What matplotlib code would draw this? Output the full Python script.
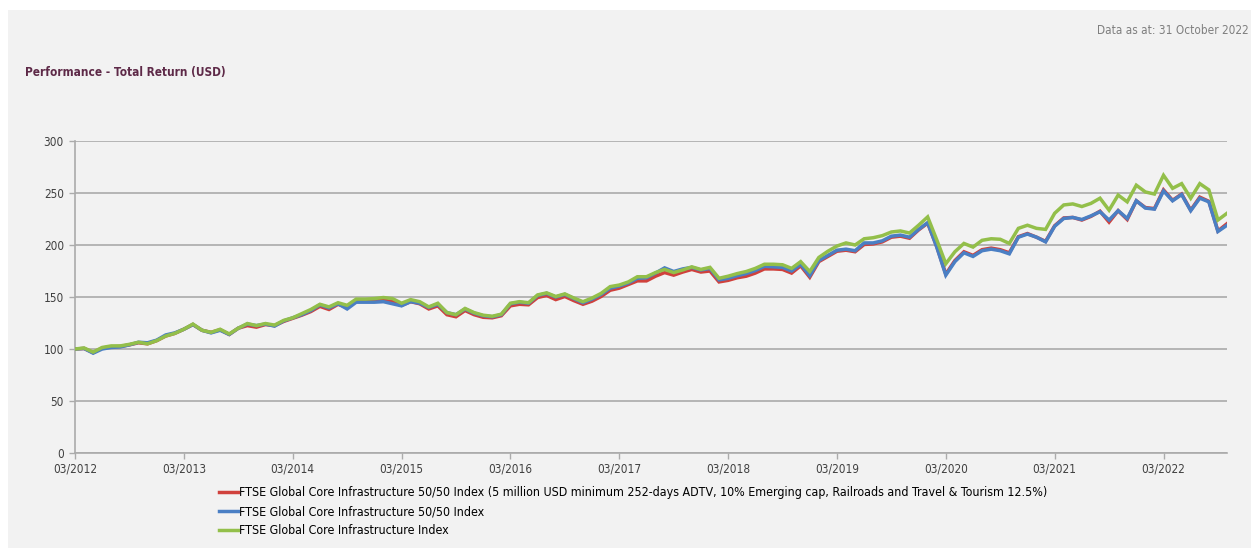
import matplotlib
matplotlib.use("Agg")
import matplotlib.pyplot as plt
import numpy as np
import pandas as pd
from matplotlib.patches import Rectangle

plt.rcParams['font.family'] = ['DejaVu Sans']
plt.rcParams['font.stretch'] = 'condensed'

# month-end index levels, 03/2012 .. 10/2022 (rebased to 100)
months = pd.date_range('2012-03-01', periods=128, freq='MS')

core_5050_adtv = [
    100, 100.5, 96.5, 101, 102, 102.5, 104, 106, 105, 108, 112.5, 115,
    119, 123.5, 118, 116, 118.5, 114, 120, 122.5, 121, 123.5, 122.5, 126.5,
    129.5, 132.5, 136, 141, 138, 143, 140, 147, 147, 147.5, 147, 145.5,
    142, 145.5, 143.5, 138.5, 141.5, 133, 131, 137, 133, 130.5, 130, 132,
    141.5, 143, 142.5, 149.5, 151.5, 147.5, 150.5, 146.5, 143, 146, 150.5, 156.5,
    158.5, 162, 165.5, 165.5, 170, 173.5, 171, 174, 176.5, 174, 175, 164.5,
    166, 168.5, 170, 173, 177, 177, 176.5, 173, 180, 169, 184, 189,
    194, 195, 193.5, 200.5, 201, 203, 207.5, 208.5, 206.5, 214.5, 221, 198.5,
    172, 185, 193.5, 190, 195.5, 197, 195.5, 192.5, 208, 211, 207.5, 203.5,
    218.5, 226, 226.5, 224, 227.5, 232.5, 222, 233, 224.5, 242.5, 236, 235,
    253, 243, 249, 233.5, 246, 242, 213.5, 220.5,
]

core_5050 = [
    100, 100.5, 96, 100, 101.5, 102, 104, 106.5, 106, 108.5, 113.5, 115.5,
    119, 123.5, 118, 115.5, 118, 114, 120, 124, 122.5, 124, 122, 127,
    130, 133, 137, 142.5, 139.5, 143.5, 138.5, 145, 145, 145, 145.5, 143.5,
    141.5, 145.5, 144, 140, 143, 135, 133, 138.5, 134.5, 132, 131, 133,
    143.5, 145, 144, 151.5, 153.5, 150, 152.5, 148.5, 144.5, 148, 152.5, 158.5,
    160.5, 163.5, 168, 168.5, 173, 178, 174.5, 177, 178.5, 176, 177.5, 166.5,
    168, 170.5, 172.5, 175.5, 179.5, 179, 178.5, 175, 181.5, 170.5, 185, 190,
    195, 196, 194.5, 202, 202, 204, 208.5, 209.5, 207.5, 215, 221.5, 198,
    171, 184, 192.5, 189, 194.5, 196, 194.5, 191.5, 207.5, 210.5, 207.5, 203,
    218, 225.5, 226.5, 224.5, 228, 232, 224, 233, 225.5, 242.5, 235.5, 234.5,
    252, 242.5, 248.5, 233, 245, 241.5, 213, 219,
]

core_index = [
    100, 101, 97, 101.5, 103, 103, 104.5, 106.5, 105, 108, 112.5, 115,
    119, 124, 118, 116, 119, 114.5, 120, 124.5, 122.5, 124.5, 123, 127.5,
    130, 134, 138, 143, 140.5, 144.5, 142, 148, 148, 148.5, 149.5, 148.5,
    144, 147.5, 145.5, 140.5, 144, 135, 133, 139, 135, 132.5, 131.5, 133.5,
    144, 145.5, 144.5, 152, 154, 150.5, 153, 149, 145.5, 149, 153.5, 160,
    161.5, 164.5, 169.5, 169.5, 173.5, 176.5, 173.5, 176, 179, 176.5, 178.5, 168,
    170, 172.5, 174.5, 177.5, 181.5, 181.5, 181, 177.5, 184, 174.5, 188, 194,
    199, 202, 200, 206, 207, 209, 212.5, 213.5, 211.5, 219, 227, 205,
    182, 193.5, 201.5, 198, 204.5, 206, 205.5, 201.5, 216, 219, 216, 215,
    230.5, 238.5, 239.5, 237, 240, 245, 233.5, 248, 241.5, 257.5, 251, 249,
    267, 254.5, 259, 245, 259, 253, 224, 230.5,
]

labels = [
    "FTSE Global Core Infrastructure 50/50 Index (5 million USD minimum 252-days ADTV, "
    "10% Emerging cap, Railroads and Travel & Tourism 12.5%)",
    "FTSE Global Core Infrastructure 50/50 Index",
    "FTSE Global Core Infrastructure Index",
]
colors = ['#d0413c', '#4a7fc4', '#93bf4a']

W, H = 1251, 548
fig = plt.figure(figsize=(W / 100, H / 100), dpi=100, facecolor='white')
fig.patches.append(Rectangle((8 / W, 0), 1 - 8 / W, 1 - 10 / H, transform=fig.transFigure,
                             facecolor='#f2f2f2', edgecolor='none', zorder=-5))

x0, x1 = 75, 1227
y_top, y_bot = 141, 453
ax = fig.add_axes([x0 / W, 1 - y_bot / H, (x1 - x0) / W, (y_bot - y_top) / H])
ax.set_zorder(2)
ax.set_facecolor('none')

x = np.arange(len(months))
for series, lab, col in zip([core_5050_adtv, core_5050, core_index], labels, colors):
    ax.plot(x, series, color=col, lw=2.5, label=lab, solid_joinstyle='miter', zorder=3)

ax.set_xlim(0, len(months) - 1)
ax.set_ylim(0, 300)
ax.set_yticks(np.arange(0, 301, 50))
ax.grid(axis='y', color='#ababab', lw=1.2, zorder=1)
ax.set_axisbelow(True)

march = [i for i, d in enumerate(months) if d.month == 3]
ax.set_xticks(march)
ax.set_xticklabels([months[i].strftime('%m/%Y') for i in march])

for side in ['top', 'right']:
    ax.spines[side].set_visible(False)
for side in ['left', 'bottom']:
    ax.spines[side].set_color('#ababab')
    ax.spines[side].set_linewidth(1.2)
ax.tick_params(axis='both', colors='#ababab', labelcolor='#404040', labelsize=8.5, length=4, width=1)
ax.tick_params(axis='y', pad=4)
ax.tick_params(axis='x', pad=3)

fig.text(25 / W, 1 - 72 / H, 'Performance - Total Return (USD)', color='#5e2a48',
         fontsize=8.5, fontweight='bold', va='center', ha='left')
fig.text(1249 / W, 1 - 30 / H, 'Data as at: 31 October 2022', color='#7f7f7f',
         fontsize=8.5, va='center', ha='right')

fig.legend(loc='upper left', bbox_to_anchor=(219 / W, 1 - 486 / H), frameon=False,
           fontsize=8.9, handlelength=1.5, handletextpad=0.1, labelspacing=0.5,
           borderaxespad=0, borderpad=0)

fig.savefig('out.png', dpi=100, facecolor=fig.get_facecolor())
